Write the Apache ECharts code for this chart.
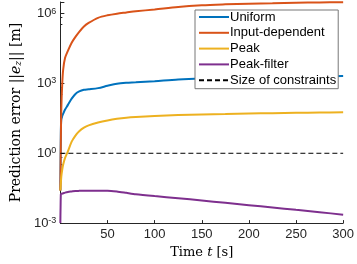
<!DOCTYPE html>
<html>
<head>
<meta charset="utf-8">
<script src="https://cdn.jsdelivr.net/npm/echarts@6/dist/echarts.min.js"></script>
<style>html,body{margin:0;padding:0;background:#fff}#c{width:357px;height:264px}</style>
</head>
<body>
<div id="c"></div>
<script>
// time samples [s]
var timeS = [0, 0.5, 1, 2, 3, 5, 8, 12, 16, 20, 25, 30, 40, 50, 60, 70, 80, 100, 125, 150, 175, 200, 225, 250, 275, 300];
// log10 of prediction error
var uniformLog = [-1.6, 0.9, 1.45, 1.6, 1.7, 1.88, 2.08, 2.35, 2.55, 2.66, 2.73, 2.75, 2.8, 2.9, 2.99, 3.03, 3.05, 3.1, 3.17, 3.21, 3.23, 3.25, 3.27, 3.28, 3.3, 3.32];
var inputDepLog = [-1.6, 0.5, 1.9, 3.0, 3.6, 4.1, 4.4, 4.75, 5.0, 5.22, 5.45, 5.6, 5.82, 5.93, 6.0, 6.05, 6.1, 6.18, 6.29, 6.36, 6.4, 6.43, 6.45, 6.47, 6.48, 6.49];
var peakLog = [-1.6, -1.3, -1.0, -0.7, -0.48, -0.2, 0.08, 0.5, 0.76, 0.95, 1.1, 1.2, 1.32, 1.41, 1.48, 1.53, 1.56, 1.6, 1.64, 1.67, 1.69, 1.71, 1.72, 1.74, 1.75, 1.76];
var peakFilterLog = [-3, -1.76, -1.75, -1.73, -1.72, -1.69, -1.66, -1.64, -1.62, -1.615, -1.61, -1.61, -1.605, -1.605, -1.64, -1.7, -1.76, -1.84, -1.93, -2.03, -2.13, -2.23, -2.33, -2.43, -2.53, -2.64];
var constraintTime = [0, 300];
var constraintSize = [1, 1];
var seriesNames = ['Uniform', 'Input-dependent', 'Peak', 'Peak-filter', 'Size of constraints'];
var xTicks = [50, 100, 150, 200, 250, 300];

function pts(logs) { return timeS.map(function (t, i) { return [t, Math.pow(10, logs[i])]; }); }

var axisCol = '#262626';
var chart = echarts.init(document.getElementById('c'));
chart.setOption({
  animation: false,
  grid: { left: 52, right: 12, top: 2, bottom: 40, containLabel: false },
  legend: {
    orient: 'vertical', left: 195, top: 10,
    padding: [0.5, 2, 2, 3],
    data: seriesNames,
    itemWidth: 30, itemHeight: 12, itemGap: 2.8,
    itemStyle: { opacity: 0 },
    borderColor: '#777', borderWidth: 1, backgroundColor: '#fff', borderRadius: 0,
    textStyle: { fontFamily: 'Liberation Sans', fontSize: 13, color: '#000', padding: [0, 0, 0, -4] }
  },
  xAxis: {
    type: 'value', min: 0, max: 300, interval: 50,
    name: 'Time {i|t} [s]', nameLocation: 'middle', nameGap: 20,
    nameTextStyle: { fontFamily: 'DejaVu Serif', fontSize: 13, color: '#000',
      rich: { i: { fontFamily: 'DejaVu Serif', fontStyle: 'italic', fontSize: 13, color: '#000' } } },
    axisLine: { lineStyle: { color: axisCol, width: 1 } },
    axisTick: { inside: true, length: 3, lineStyle: { color: axisCol } },
    axisLabel: { fontFamily: 'Liberation Sans', fontSize: 13, color: axisCol, margin: 5,
      formatter: function (v) { return xTicks.indexOf(v) >= 0 ? String(v) : ''; } },
    splitLine: { show: false }
  },
  yAxis: {
    type: 'log', logBase: 10, min: 1e-3, max: Math.pow(10, 6.5), interval: 3,
    name: 'Prediction error ||{i|e}{sub|z}|| [m]', nameLocation: 'middle', nameGap: 36,
    nameTextStyle: { fontFamily: 'DejaVu Serif', fontSize: 14, color: '#000',
      rich: {
        i: { fontFamily: 'DejaVu Serif', fontStyle: 'italic', fontSize: 14, color: '#000' },
        sub: { fontFamily: 'DejaVu Serif', fontStyle: 'italic', fontSize: 9, color: '#000', verticalAlign: 'bottom', lineHeight: 9, padding: [6, 0, 0, 0] }
      } },
    axisLine: { show: true, lineStyle: { color: axisCol, width: 1 } },
    axisTick: { show: true, inside: true, length: 4, lineStyle: { color: axisCol } },
    minorTick: { show: true, splitNumber: 3, length: 2, lineStyle: { color: axisCol } },
    axisLabel: {
      margin: 4, color: axisCol,
      formatter: function (v) {
        var e = Math.log10(v), r = Math.round(e);
        if (Math.abs(e - r) > 1e-6 || r % 3 !== 0) return '';
        return '{b|10}{s|' + r + '}';
      },
      rich: {
        b: { fontFamily: 'Liberation Sans', fontSize: 13, color: axisCol, lineHeight: 14 },
        s: { fontFamily: 'Liberation Sans', fontSize: 9, color: axisCol, lineHeight: 9, verticalAlign: 'top', padding: [0, 0, 8, 0] }
      },
      showMaxLabel: false
    },
    splitLine: { show: false }
  },
  series: [
    { name: seriesNames[0], type: 'line', data: pts(uniformLog), symbol: 'none', smooth: 0.3, lineStyle: { color: '#0072BD', width: 2 }, itemStyle: { color: '#0072BD' } },
    { name: seriesNames[1], type: 'line', data: pts(inputDepLog), symbol: 'none', smooth: 0.3, lineStyle: { color: '#D95319', width: 2 }, itemStyle: { color: '#D95319' } },
    { name: seriesNames[2], type: 'line', data: pts(peakLog), symbol: 'none', smooth: 0.3, lineStyle: { color: '#EDB120', width: 2 }, itemStyle: { color: '#EDB120' } },
    { name: seriesNames[3], type: 'line', data: pts(peakFilterLog), symbol: 'none', smooth: 0.2, lineStyle: { color: '#7E2F8E', width: 2 }, itemStyle: { color: '#7E2F8E' } },
    { name: seriesNames[4], type: 'line', data: constraintTime.map(function (t, i) { return [t, constraintSize[i]]; }), symbol: 'none', lineStyle: { color: '#000', width: 1, type: [5, 3] }, itemStyle: { color: '#000' } }
  ]
});
</script>
</body>
</html>
